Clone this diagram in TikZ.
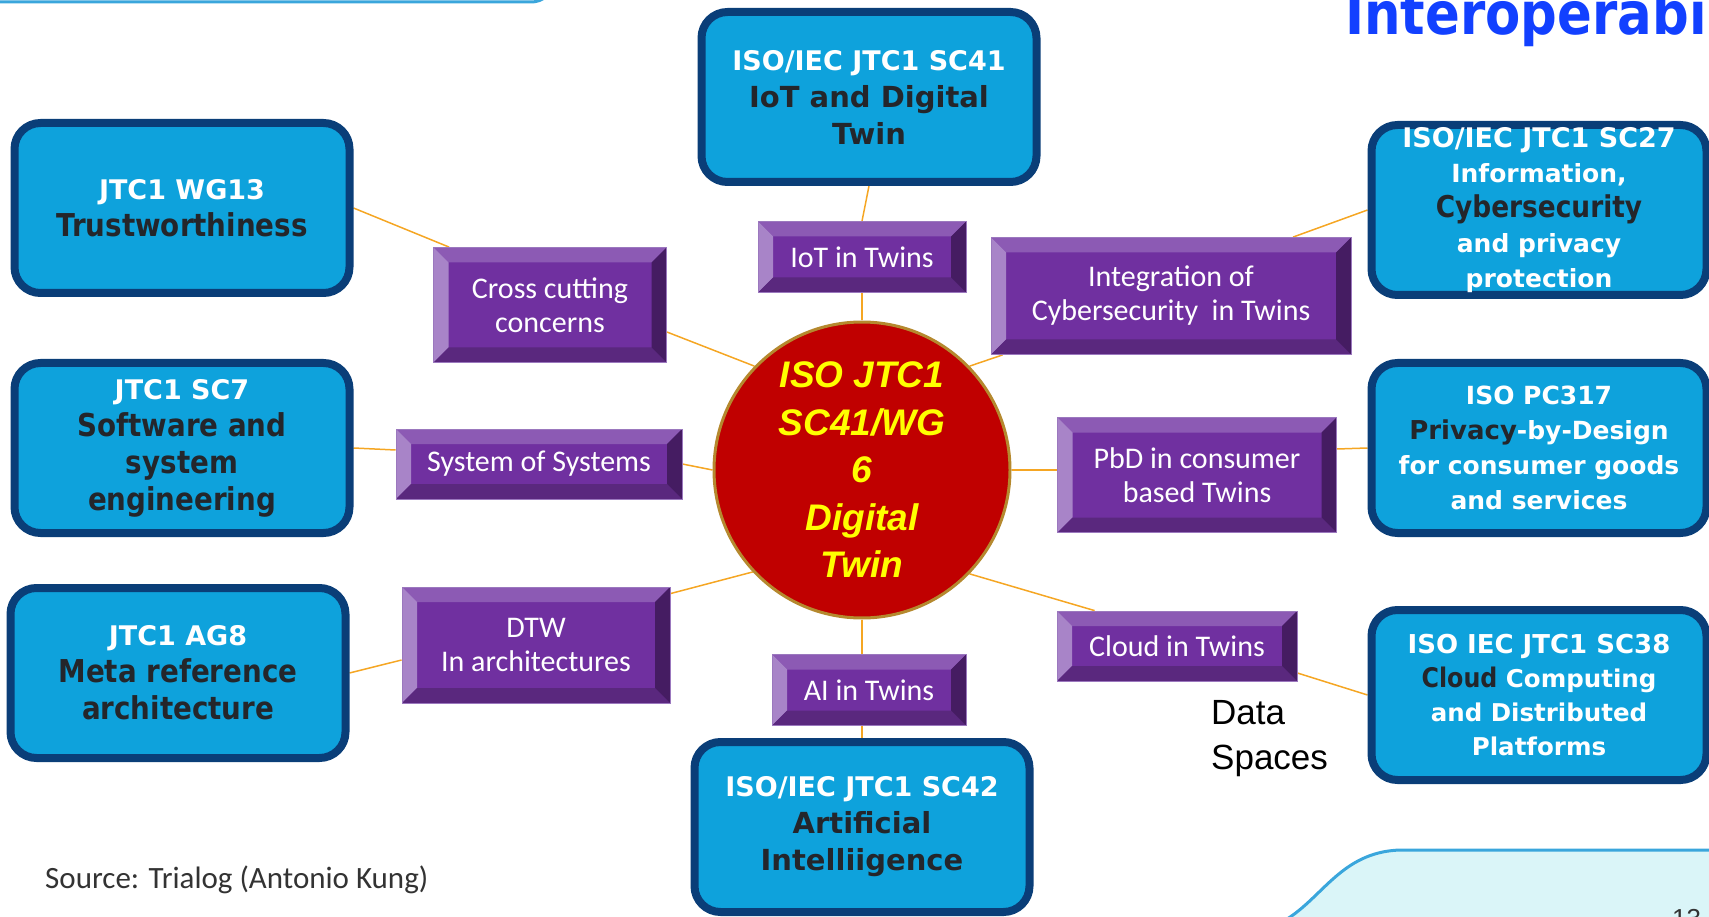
\documentclass[tikz,border=0pt]{standalone}
\usepackage{fontspec}
\setmainfont{Liberation Sans}
\newfontfamily\orgfont{DejaVu Sans}
\newfontfamily\orgnarrow{DejaVu Sans}[FakeStretch=0.88]
\newfontfamily\twinfont{Carlito}
\newfontfamily\hubfont{Liberation Sans}
\newfontfamily\titlefont{DejaVu Sans}[FakeStretch=0.87]
\usetikzlibrary{backgrounds}

\definecolor{orgblue}{HTML}{0EA2DC}
\definecolor{orgnavy}{HTML}{0A3E78}
\definecolor{orgdark}{HTML}{24262B}
\definecolor{twinface}{HTML}{7030A0}
\definecolor{twintop}{HTML}{8C5AB4}
\definecolor{twinleft}{HTML}{A884C8}
\definecolor{twinbottom}{HTML}{5A287E}
\definecolor{twinright}{HTML}{451C62}
\definecolor{twinedge}{HTML}{9B78BE}
\definecolor{hubred}{HTML}{C00000}
\definecolor{hubrim}{HTML}{B5892E}
\definecolor{hubyellow}{HTML}{FFFF00}
\definecolor{linkorange}{HTML}{F5A623}
\definecolor{titleblue}{HTML}{1240FF}
\definecolor{srcgray}{HTML}{333333}
\definecolor{pagecyan}{HTML}{DAF5F8}
\definecolor{pageblue}{HTML}{3AA6DC}

\newcommand{\bev}{15pt}
\newcommand{\dk}[1]{{\color{orgdark}\orgnarrow\bfseries\fontsize{31.5}{37}\selectfont #1}}
\newcommand{\dkw}[1]{{\color{orgdark}\fontsize{29}{37}\selectfont #1}}

\tikzset{
	org/.style={draw=orgnavy, fill=orgblue, line width=8pt, rounded corners=26pt,
		minimum width=335pt, minimum height=170pt, inner sep=0pt, align=center,
		text=white, font=\orgfont\bfseries\fontsize{27}{37}\selectfont},
	twin/.style={draw=twinedge, fill=twinface, line width=.8pt, inner sep=0pt,
		align=center, text=white, font=\twinfont\fontsize{30}{34}\selectfont,
		path picture={
			\fill[twintop] (path picture bounding box.north west) -- (path picture bounding box.north east)
				-- ([shift={(-\bev,-\bev)}]path picture bounding box.north east) -- ([shift={(\bev,-\bev)}]path picture bounding box.north west) -- cycle;
			\fill[twinleft] (path picture bounding box.north west) -- ([shift={(\bev,-\bev)}]path picture bounding box.north west)
				-- ([shift={(\bev,\bev)}]path picture bounding box.south west) -- (path picture bounding box.south west) -- cycle;
			\fill[twinbottom] (path picture bounding box.south west) -- ([shift={(\bev,\bev)}]path picture bounding box.south west)
				-- ([shift={(-\bev,\bev)}]path picture bounding box.south east) -- (path picture bounding box.south east) -- cycle;
			\fill[twinright] (path picture bounding box.north east) -- (path picture bounding box.south east)
				-- ([shift={(-\bev,\bev)}]path picture bounding box.south east) -- ([shift={(-\bev,-\bev)}]path picture bounding box.north east) -- cycle;
		}},
	hub/.style={circle, draw=hubrim, fill=hubred, line width=3pt, minimum size=296pt,
		inner sep=0pt, align=center, text=hubyellow,
		font=\hubfont\bfseries\itshape\fontsize{37}{47.5}\selectfont},
	link/.style={draw=linkorange, line width=1.5pt}
}

\begin{document}
\begin{tikzpicture}[x=1pt, y=-1pt]
	\useasboundingbox (0,0) rectangle (1709,917);
	\clip (0,0) rectangle (1709,917);

	% slide decoration
	\draw[pageblue, line width=3pt] (0,2) -- (530,2) .. controls (538,2) and (542,0) .. (547,-4);
	\filldraw[fill=pagecyan, draw=pageblue, line width=3pt] (1282,922) .. controls (1322,900) and (1340,852) .. (1400,850) -- (1715,850) -- (1715,925) -- cycle;
	\node[anchor=base west, inner sep=0pt, text=titleblue, font=\titlefont\bfseries\fontsize{59}{60}\selectfont] (title) at (1345,35) {Interoperabi};
	\node[anchor=north west, inner sep=0pt, text=srcgray, font=\hubfont\fontsize{26}{28}\selectfont] (pgnum) at (1672,909) {13};

	% committees
	\node[org] (wg13) at (182,208) {JTC1 WG13\\\dk{Trustworthiness}};
	\node[org] (sc41) at (869,97) {ISO/IEC JTC1 SC41\\\dkw{IoT and Digital}\\\dkw{Twin}};
	\node[org, font=\orgfont\bfseries\fontsize{25}{35}\selectfont] (sc27) at (1539,210)
		{{\fontsize{27}{35}\selectfont ISO/IEC JTC1 SC27}\\Information,\\{\color{orgdark}\orgnarrow\bfseries\fontsize{30}{35}\selectfont Cybersecurity}\\and privacy\\protection};
	\node[org] (sc7) at (182,448) {JTC1 SC7\\\dk{Software and}\\\dk{system}\\\dk{engineering}};
	\node[org, font=\orgfont\bfseries\fontsize{25}{35}\selectfont] (pc317) at (1539,448)
		{ISO PC317\\{\color{orgdark}\fontsize{26}{35}\selectfont Privacy}-by-Design\\for consumer goods\\and services};
	\node[org] (ag8) at (178,673) {JTC1 AG8\\\dk{Meta reference}\\\dk{architecture}};
	\node[org, font=\orgfont\bfseries\fontsize{24.5}{34}\selectfont] (sc38) at (1539,695)
		{{\fontsize{26}{34}\selectfont ISO IEC JTC1 SC38}\\{\color{orgdark}\orgnarrow\bfseries\fontsize{27}{34}\selectfont Cloud} Computing\\and Distributed\\Platforms};
	\node[org] (sc42) at (862,827) {ISO/IEC JTC1 SC42\\\dkw{Artificial}\\\dkw{Intelliigence}};

	% topics
	\node[twin, minimum width=233pt, minimum height=115pt] (cross) at (550,305) {Cross cutting\\concerns};
	\node[twin, minimum width=208pt, minimum height=71pt] (iot) at (862,257) {IoT in Twins};
	\node[twin, minimum width=360pt, minimum height=117pt] (integ) at (1171,296) {Integration of\\Cybersecurity\ \ in Twins};
	\node[twin, minimum width=286pt, minimum height=70pt] (sos) at (539,464) {System of Systems};
	\node[twin, minimum width=279pt, minimum height=115pt] (pbd) at (1197,475) {PbD in consumer\\based Twins};
	\node[twin, minimum width=268pt, minimum height=116pt] (dtw) at (536,645) {DTW\\In architectures};
	\node[twin, minimum width=194pt, minimum height=71pt] (ai) at (869,690) {AI in Twins};
	\node[twin, minimum width=240pt, minimum height=70pt] (cloud) at (1177,646) {Cloud in Twins};

	\node[hub] (hub) at (862,470) {ISO JTC1\\SC41/WG\\6\\Digital\\Twin};

	\node[anchor=west, inner sep=0pt, align=left, font=\hubfont\fontsize{35}{45}\selectfont] (data) at (1211,739) {Data\\Spaces};
	\node[anchor=base west, inner sep=0pt, text=srcgray, font=\twinfont\fontsize{31}{32}\selectfont] (src) at (45,888) {Source: Trialog (Antonio Kung)};

	\begin{scope}[on background layer]
		\draw[link] (wg13.east) -- ([xshift=16pt]cross.north west);
		\draw[link] ([yshift=-27pt]cross.east) -- (hub.136);
		\draw[link] (sc41.south) -- (iot.north);
		\draw[link] (iot.south) -- (hub.north);
		\draw[link] ([xshift=12pt]integ.south west) -- (hub.44);
		\draw[link] ([xshift=122pt]integ.north) -- (sc27.west);
		\draw[link] (sc7.east) -- ([yshift=14pt]sos.west);
		\draw[link] (sos.east) -- (hub.west);
		\draw[link] (hub.east) -- ([yshift=5pt]pbd.west);
		\draw[link] ([yshift=26pt]pbd.east) -- (pc317.west);
		\draw[link] (ag8.east) -- ([yshift=-15pt]dtw.west);
		\draw[link] ([yshift=-7pt]dtw.north east) -- (hub.223);
		\draw[link] (hub.south) -- ([xshift=-7pt]ai.north);
		\draw[link] ([xshift=-7pt]ai.south) -- (sc42.north);
		\draw[link] (hub.-44) -- ([xshift=38pt]cloud.north west);
		\draw[link] ([yshift=-27pt]cloud.east) -- (sc38.west);
	\end{scope}
\end{tikzpicture}
\end{document}
